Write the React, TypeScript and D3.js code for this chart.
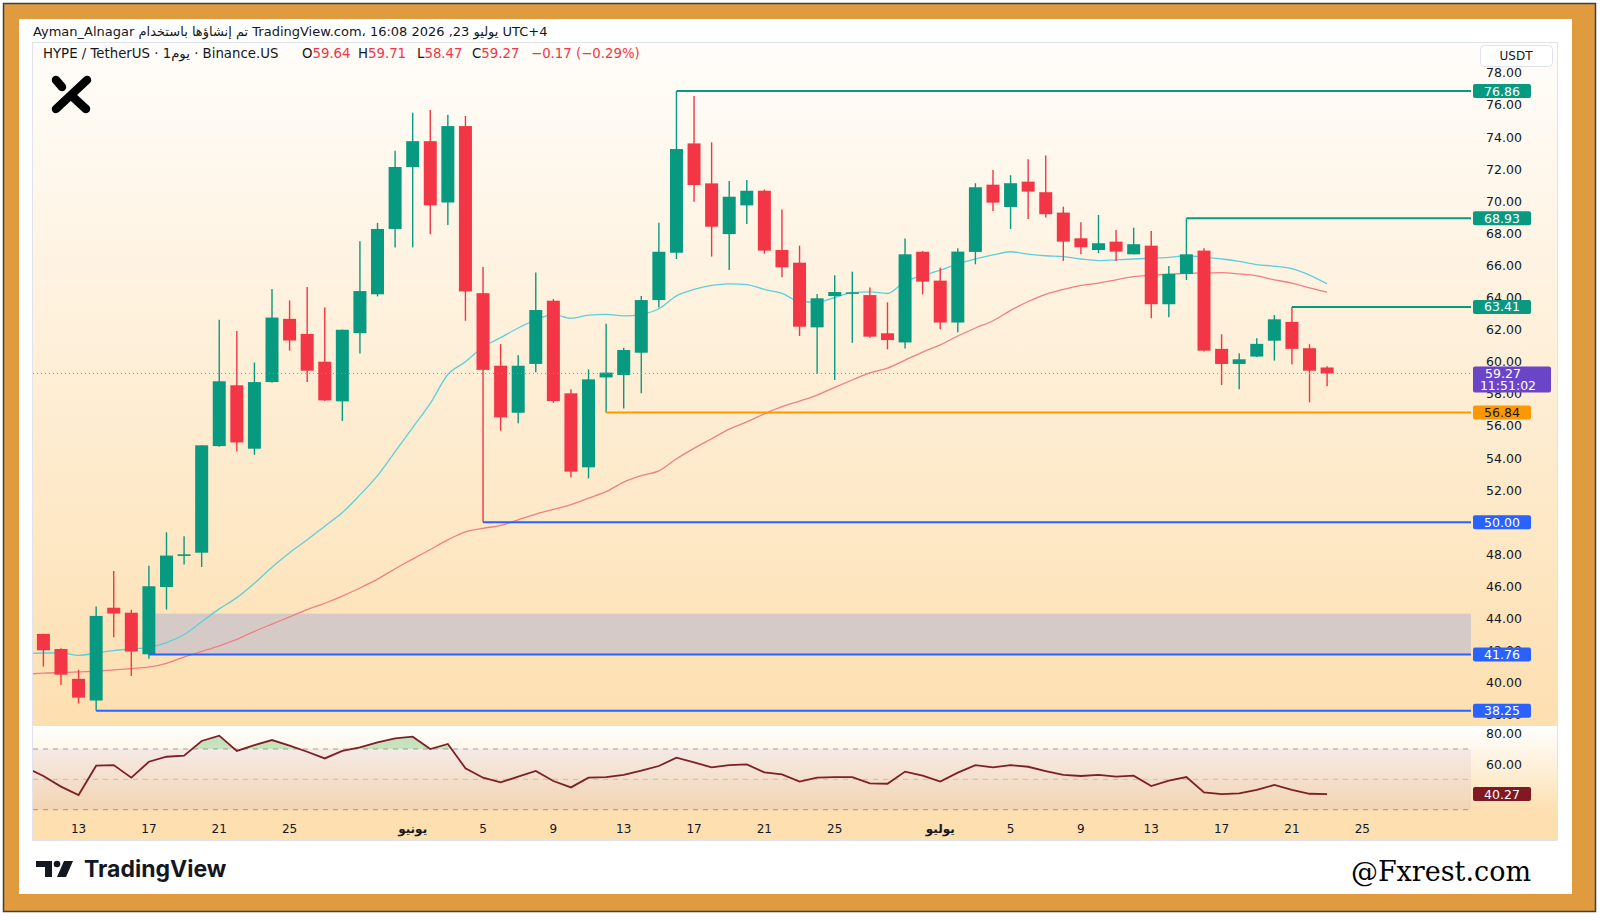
import * as d3 from "d3";
import React from "react";

// daily HYPE/USDT candles, 11 May -> 23 Jul 2026
const START = "2026-05-11";
const OPEN = [43.04, 42.1, 40.24, 38.89, 44.67, 44.36, 41.77, 45.96, 47.9, 48.1, 54.74, 58.53, 54.58, 58.73, 62.67, 61.73, 60.0, 57.53, 61.78, 64.2, 68.27, 72.13, 73.74, 69.92, 74.68, 64.27, 59.75, 56.82, 59.86, 63.8, 58.03, 53.42, 59.02, 59.17, 60.56, 63.84, 66.79, 73.6, 71.11, 67.95, 69.74, 70.65, 66.96, 66.17, 62.14, 64.09, 64.25, 64.15, 61.77, 61.2, 66.85, 65.05, 62.44, 66.84, 71.03, 69.64, 71.22, 70.56, 69.29, 67.69, 66.96, 67.48, 66.69, 67.23, 63.58, 65.47, 66.92, 60.8, 59.86, 60.32, 61.31, 62.48, 60.84, 59.64];
const HIGH = [43.05, 42.15, 40.8, 44.74, 46.96, 44.54, 47.29, 49.37, 49.12, 54.8, 62.62, 61.91, 59.95, 64.53, 63.82, 64.66, 63.38, 62.0, 67.5, 68.65, 73.15, 75.52, 75.69, 75.39, 75.31, 65.9, 61.1, 60.4, 65.55, 63.9, 58.28, 59.52, 62.37, 60.87, 64.09, 68.66, 76.86, 76.55, 73.67, 71.26, 71.32, 70.73, 69.49, 67.23, 64.22, 65.38, 65.61, 64.63, 63.7, 67.68, 66.9, 65.86, 67.07, 71.12, 71.95, 71.62, 72.61, 72.84, 69.66, 68.69, 69.14, 68.21, 68.35, 68.15, 65.97, 68.93, 67.07, 61.71, 60.53, 61.46, 62.91, 63.41, 61.09, 59.71];
const LOW = [41.0, 39.86, 38.71, 38.25, 42.83, 40.42, 41.49, 44.56, 47.36, 47.21, 54.7, 54.41, 54.2, 58.7, 60.69, 58.73, 57.55, 56.31, 60.51, 64.07, 67.12, 67.12, 67.94, 68.52, 62.55, 50.0, 55.7, 56.16, 59.34, 57.45, 52.79, 52.73, 56.84, 57.09, 58.03, 63.37, 66.4, 69.97, 66.55, 65.71, 68.58, 66.73, 65.26, 61.6, 59.23, 58.86, 61.18, 61.5, 60.77, 60.83, 64.2, 62.02, 61.83, 66.07, 69.39, 68.27, 68.89, 68.98, 66.28, 66.69, 66.76, 66.28, 66.69, 62.71, 62.77, 65.09, 60.63, 58.55, 58.28, 60.3, 60.07, 59.84, 57.47, 58.47];
const CLOSE = [42.02, 40.5, 39.07, 44.16, 44.31, 41.94, 46.01, 47.92, 48.0, 54.79, 58.78, 54.97, 58.73, 62.75, 61.32, 59.44, 57.59, 61.99, 64.4, 68.27, 72.13, 73.74, 69.74, 74.68, 64.38, 59.49, 56.53, 59.75, 63.22, 57.55, 53.15, 58.9, 59.32, 60.73, 63.84, 66.85, 73.25, 71.01, 68.41, 70.28, 70.65, 66.92, 65.88, 62.18, 63.95, 64.34, 64.32, 61.56, 61.35, 66.69, 64.99, 62.44, 66.86, 70.87, 69.91, 71.12, 70.6, 69.19, 67.48, 67.13, 67.38, 66.86, 67.32, 63.58, 65.47, 66.69, 60.69, 59.86, 60.15, 61.11, 62.64, 60.8, 59.44, 59.27];

// indicator series start one day earlier (10 May) and run off the left edge
const IND_START = "2026-05-10";
const MA_FAST = [41.8, 41.85, 41.85, 41.7, 41.85, 42.0, 42.1, 42.2, 42.5, 43.0, 43.8, 44.6, 45.3, 46.2, 47.2, 48.1, 48.9, 49.75, 50.6, 51.7, 52.9, 54.4, 55.9, 57.4, 59.2, 60.0, 60.9, 61.5, 62.1, 62.6, 62.95, 62.7, 62.9, 62.95, 62.85, 62.95, 63.3, 64.1, 64.5, 64.75, 64.85, 64.8, 64.5, 64.25, 63.75, 63.7, 64.0, 64.3, 64.35, 64.25, 65.0, 65.35, 65.7, 66.1, 66.4, 66.65, 66.85, 66.7, 66.6, 66.55, 66.4, 66.3, 66.35, 66.4, 66.45, 66.5, 66.6, 66.5, 66.4, 66.25, 66.05, 65.95, 65.8, 65.4, 64.85];
const MA_SLOW = [40.52, 40.6, 40.63, 40.67, 40.72, 40.8, 40.88, 40.97, 41.2, 41.6, 41.95, 42.3, 42.7, 43.2, 43.65, 44.1, 44.55, 44.95, 45.4, 45.9, 46.45, 47.1, 47.7, 48.3, 48.9, 49.4, 49.62, 49.8, 50.15, 50.5, 50.8, 51.1, 51.5, 51.9, 52.5, 52.9, 53.2, 53.95, 54.6, 55.2, 55.8, 56.25, 56.75, 57.2, 57.55, 57.92, 58.4, 58.86, 59.3, 59.6, 60.1, 60.6, 61.05, 61.6, 62.1, 62.55, 63.2, 63.75, 64.2, 64.5, 64.75, 64.9, 65.1, 65.3, 65.38, 65.45, 65.5, 65.53, 65.55, 65.47, 65.35, 65.1, 64.9, 64.6, 64.33];
const RSI = [57.8, 52.2, 45.2, 39.7, 59.0, 59.4, 51.1, 61.6, 64.9, 65.6, 75.3, 78.8, 68.7, 72.6, 75.9, 72.2, 68.2, 63.8, 68.7, 71.1, 74.4, 77.0, 78.1, 70.0, 73.3, 57.3, 51.1, 48.0, 51.8, 55.5, 48.9, 44.7, 51.1, 51.5, 52.9, 55.7, 58.8, 64.3, 61.2, 57.9, 59.4, 59.9, 54.6, 53.3, 48.5, 51.1, 51.5, 51.5, 47.4, 47.1, 55.1, 52.4, 48.5, 54.4, 59.4, 57.9, 59.4, 58.3, 55.5, 52.9, 52.2, 52.9, 51.8, 52.4, 45.6, 49.1, 51.5, 41.4, 40.3, 40.8, 43.0, 46.3, 43.0, 40.5, 40.27];

// horizontal levels drawn on the chart
const LEVEL_PRICES = [76.86, 68.93, 63.41, 56.84, 50.0, 41.76, 38.25];
const LEVEL_FROM = ["2026-06-16", "2026-07-15", "2026-07-21", "2026-06-12", "2026-06-05", "2026-05-17", "2026-05-14"];
const LEVEL_KIND = ["res", "res", "res", "mid", "sup", "sup", "sup"];
const ZONE = [41.76, 44.3];
const ZONE_FROM = "2026-05-17";

const PRICE_TICKS = [38, 40, 42, 44, 46, 48, 50, 52, 54, 56, 58, 60, 62, 64, 66, 68, 70, 72, 74, 76, 78];
const RSI_TICKS = [80, 60, 40];
const RSI_BANDS = [70, 50, 30];
const TIME_TICKS = ["2026-05-13", "2026-05-17", "2026-05-21", "2026-05-25", "2026-06-01", "2026-06-05", "2026-06-09", "2026-06-13", "2026-06-17", "2026-06-21", "2026-06-25", "2026-07-01", "2026-07-05", "2026-07-09", "2026-07-13", "2026-07-17", "2026-07-21", "2026-07-25"];
const TIME_LABELS = ["13", "17", "21", "25", "يونيو", "5", "9", "13", "17", "21", "25", "يوليو", "5", "9", "13", "17", "21", "25"];

const UP = "#089981";
const DOWN = "#F23645";
const KIND_COLOR: Record<string, string> = { res: "#089981", mid: "#FF9800", sup: "#2962FF" };
const FONT = "'DejaVu Sans', sans-serif";

const day = (s: string) => new Date(s + "T00:00:00Z");

export default function App() {
  const W = 1600, H = 921;
  const left = 33, right = 1471;
  const paneTop = 42, mainBottom = 726, paneBottom = 841;
  const bodyW = 13;

  const dates = OPEN.map((_, i) => d3.utcDay.offset(day(START), i));
  const indDates = MA_FAST.map((_, i) => d3.utcDay.offset(day(IND_START), i));
  const x = d3.scaleUtc().domain([dates[0], dates[dates.length - 1]]).range([43.4, 1327.1]);
  const y = d3.scaleLinear().domain([40, 60]).range([682.7, 361.7]);
  const yr = d3.scaleLinear().domain([30, 70]).range([809.7, 749]);

  const maLine = d3.line<number>().x((_, i) => x(indDates[i])).y(v => y(v)).curve(d3.curveMonotoneX);
  const rsiLine = d3.line<number>().x((_, i) => x(indDates[i])).y(v => yr(v));
  const rsiHot = d3.area<number>().x((_, i) => x(indDates[i])).y0(yr(70)).y1(v => yr(v));

  const last = OPEN.length - 1;
  const lastClose = CLOSE[last];
  const lastRsi = RSI[RSI.length - 1];
  const change = lastClose - CLOSE[last - 1];
  const pct = (change / CLOSE[last - 1]) * 100;
  const fmt = (v: number) => v.toFixed(2);
  const signed = (v: number) => (v < 0 ? "\u2212" : "+") + Math.abs(v).toFixed(2);

  const labelX = 1473, labelW = 58;
  const legendSize = 13.3;

  return (
    <svg width={W} height={H} style={{ display: "block", position: "absolute", left: 0, top: 0 }}>
      <defs>
        <linearGradient id="mainBg" x1="0" y1="0" x2="0" y2="1">
          <stop offset="0" stopColor="#fffdfa" />
          <stop offset="1" stopColor="#fddfb0" />
        </linearGradient>
        <linearGradient id="rsiBg" x1="0" y1="0" x2="0" y2="1">
          <stop offset="0" stopColor="#ffffff" />
          <stop offset="0.75" stopColor="#fddfb0" />
          <stop offset="1" stopColor="#fddfb0" />
        </linearGradient>
        <linearGradient id="hot" x1="0" y1="0" x2="0" y2="1">
          <stop offset="0" stopColor="#4caf50" stopOpacity="0.35" />
          <stop offset="1" stopColor="#4caf50" stopOpacity="0.05" />
        </linearGradient>
        <clipPath id="mainClip">
          <rect x={left} y={paneTop} width={right - left} height={mainBottom - paneTop} />
        </clipPath>
        <clipPath id="rsiClip">
          <rect x={left} y={mainBottom} width={right - left} height={paneBottom - mainBottom} />
        </clipPath>
        <clipPath id="hotClip">
          <rect x={left} y={mainBottom} width={right - left} height={yr(70) - mainBottom} />
        </clipPath>
      </defs>

      {/* frame */}
      <rect x={0} y={0} width={W} height={H} fill="#ffffff" />
      <rect x={3.5} y={3.5} width={1592} height={908} fill="#df9b3e" stroke="#3b3f4a" strokeWidth={1.5} />
      <rect x={19} y={19} width={1553} height={875} fill="#ffffff" />

      {/* watermark line */}
      <text x={33} y={36} fontFamily={FONT} fontSize={13} fill="#131722">
        Ayman_Alnagar تم إنشاؤها باستخدام TradingView.com، 16:08 2026 ,23 يوليو UTC+4
      </text>

      {/* panes */}
      <rect x={32} y={paneTop} width={1526} height={mainBottom - paneTop} fill="url(#mainBg)" />
      <rect x={32} y={mainBottom} width={1526} height={paneBottom - mainBottom} fill="url(#rsiBg)" />
      <rect x={32.5} y={paneTop + 0.5} width={1525} height={paneBottom - paneTop - 1} fill="none" stroke="#e0e3eb" />

      {/* price pane */}
      <g clipPath="url(#mainClip)">
        <rect x={x(day(ZONE_FROM)) + bodyW / 2} y={y(ZONE[1])} width={right - x(day(ZONE_FROM)) - bodyW / 2}
          height={y(ZONE[0]) - y(ZONE[1])} fill="#d6cac6" />
        <path d={maLine(MA_SLOW) ?? ""} fill="none" stroke="#f07f83" strokeWidth={1.3} />
        <path d={maLine(MA_FAST) ?? ""} fill="none" stroke="#5ccfdc" strokeWidth={1.3} />

        {dates.map((d, i) => {
          const up = CLOSE[i] >= OPEN[i];
          const c = up ? UP : DOWN;
          const cx = x(d);
          const top = y(Math.max(OPEN[i], CLOSE[i]));
          const h = Math.max(1.5, Math.abs(y(OPEN[i]) - y(CLOSE[i])));
          return (
            <g key={i}>
              <line x1={cx} x2={cx} y1={y(HIGH[i])} y2={y(LOW[i])} stroke={c} strokeWidth={1.4} />
              <rect x={cx - bodyW / 2} y={top} width={bodyW} height={h} fill={c} />
            </g>
          );
        })}

        {LEVEL_PRICES.map((p, i) => (
          <line key={i} x1={x(day(LEVEL_FROM[i]))} x2={right} y1={y(p)} y2={y(p)}
            stroke={KIND_COLOR[LEVEL_KIND[i]]} strokeWidth={2} />
        ))}

        <line x1={left} x2={right} y1={y(lastClose)} y2={y(lastClose)} stroke="#9a80d0"
          strokeWidth={1} strokeDasharray="1 3" />
      </g>

      {/* logo */}
      <g stroke="#000" strokeWidth={8.5} strokeLinecap="round" fill="none">
        <line x1={56} y1={80} x2={62} y2={87} />
        <line x1={87} y1={80} x2={56} y2={109} />
        <line x1={74} y1={98} x2={86} y2={109} />
      </g>

      {/* legend */}
      <text x={43} y={58} fontFamily={FONT} fontSize={legendSize} fill="#131722">HYPE / TetherUS · 1يوم · Binance.US</text>
      <text x={302} y={58} fontFamily={FONT} fontSize={legendSize} fill="#131722">
        O<tspan fill={DOWN}>{fmt(OPEN[last])}</tspan>
      </text>
      <text x={358} y={58} fontFamily={FONT} fontSize={legendSize} fill="#131722">
        H<tspan fill={DOWN}>{fmt(HIGH[last])}</tspan>
      </text>
      <text x={417} y={58} fontFamily={FONT} fontSize={legendSize} fill="#131722">
        L<tspan fill={DOWN}>{fmt(LOW[last])}</tspan>
      </text>
      <text x={472} y={58} fontFamily={FONT} fontSize={legendSize} fill="#131722">
        C<tspan fill={DOWN}>{fmt(lastClose)}</tspan>
      </text>
      <text x={531} y={58} fontFamily={FONT} fontSize={legendSize} fill={DOWN}>
        {signed(change)} ({signed(pct)}%)
      </text>

      {/* price scale */}
      {PRICE_TICKS.map(t => (
        <text key={t} x={1504} y={y(t) + 4.5} textAnchor="middle" fontFamily={FONT} fontSize={12.5} fill="#131722">
          {t.toFixed(2)}
        </text>
      ))}
      <rect x={1480.5} y={45.5} width={72} height={21} rx={4} fill="#ffffff" stroke="#e0e3eb" />
      <text x={1516} y={60} textAnchor="middle" fontFamily={FONT} fontSize={12} fill="#131722">USDT</text>

      {LEVEL_PRICES.map((p, i) => {
        const kind = LEVEL_KIND[i];
        return (
          <g key={i}>
            <rect x={labelX} y={y(p) - 7} width={labelW} height={14} rx={2} fill={KIND_COLOR[kind]} />
            <text x={labelX + labelW / 2} y={y(p) + 4.5} textAnchor="middle" fontFamily={FONT} fontSize={12.5}
              fill={kind === "mid" ? "#131722" : "#ffffff"}>{fmt(p)}</text>
          </g>
        );
      })}
      <rect x={labelX} y={y(lastClose) - 7} width={78} height={26} rx={2} fill="#6b45c8" />
      <text x={labelX + 30} y={y(lastClose) + 4.5} textAnchor="middle" fontFamily={FONT} fontSize={12.5} fill="#ffffff">
        {fmt(lastClose)}
      </text>
      <text x={labelX + 35} y={y(lastClose) + 16.5} textAnchor="middle" fontFamily={FONT} fontSize={12.5} fill="#ffffff">
        11:51:02
      </text>

      {/* RSI pane */}
      <rect x={left} y={yr(70)} width={right - left} height={yr(30) - yr(70)} fill="#7e57c2" fillOpacity={0.08} />
      {RSI_BANDS.map(b => (
        <line key={b} x1={left} x2={right} y1={yr(b)} y2={yr(b)} stroke="#787b86"
          strokeOpacity={b === 50 ? 0.35 : 0.7} strokeDasharray="5 5" />
      ))}
      <g clipPath="url(#hotClip)">
        <path d={rsiHot(RSI) ?? ""} fill="url(#hot)" />
      </g>
      <g clipPath="url(#rsiClip)">
        <path d={rsiLine(RSI) ?? ""} fill="none" stroke="#7e1f26" strokeWidth={1.8} />
      </g>
      {RSI_TICKS.map(t => (
        <text key={t} x={1504} y={yr(t) + 4.5} textAnchor="middle" fontFamily={FONT} fontSize={12.5} fill="#131722">
          {t.toFixed(2)}
        </text>
      ))}
      <rect x={labelX} y={yr(lastRsi) - 7} width={labelW} height={14} rx={2} fill="#801922" />
      <text x={labelX + labelW / 2} y={yr(lastRsi) + 4.5} textAnchor="middle" fontFamily={FONT} fontSize={12.5}
        fill="#ffffff">{fmt(lastRsi)}</text>

      {/* time scale */}
      {TIME_TICKS.map((t, i) => {
        const month = isNaN(+TIME_LABELS[i]);
        return (
          <text key={t} x={x(day(t))} y={833} textAnchor="middle" fontFamily={FONT} fontSize={12}
            fontWeight={month ? 700 : 400} fill="#131722">{TIME_LABELS[i]}</text>
        );
      })}

      {/* footer */}
      <g fill="#131722">
        <path d="M36 861 H52 V877 H45 V867 H36 Z" />
        <circle cx={57} cy={864} r={3.3} />
        <path d="M64 861 H73 L66 877 H57 Z" />
      </g>
      <text x={84} y={877} fontFamily="Inter, 'DejaVu Sans', sans-serif" fontWeight={700} fontSize={23} fill="#131722">
        TradingView
      </text>
      <text x={1531} y={881} textAnchor="end" fontFamily="'DejaVu Serif', serif" fontSize={27} fill="#000000">
        @Fxrest.com
      </text>
    </svg>
  );
}
